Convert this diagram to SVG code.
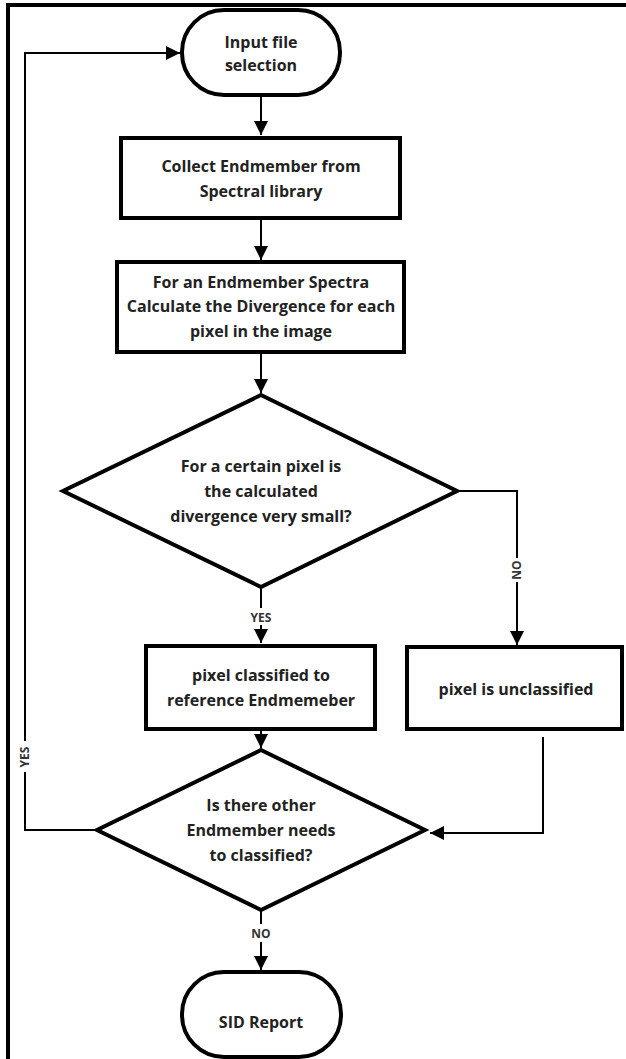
<svg xmlns="http://www.w3.org/2000/svg" width="626" height="1059" viewBox="0 0 626 1059">
<style>
.n{fill:#fff;stroke:#000;stroke-width:4}
.t{font-family:"Open Sans","Liberation Sans",sans-serif;font-weight:bold;font-size:16px;fill:#222;text-anchor:middle}
.l{font-family:"Open Sans","Liberation Sans",sans-serif;font-weight:bold;font-size:12px;fill:#333;text-anchor:middle}
.c{fill:none;stroke:#000;stroke-width:2}
.f{stroke:#000;stroke-width:4}
</style>
<defs>
<marker id="a" viewBox="0 0 10 10" refX="10" refY="5" markerWidth="7" markerHeight="7" orient="auto" markerUnits="strokeWidth">
<path d="M0,0L10,5L0,10z" fill="#000"/>
</marker>
</defs>
<rect width="626" height="1059" fill="#fff"/>
<g id="frame">
<line class="f" x1="6" y1="5" x2="626" y2="5"/>
<line class="f" x1="8" y1="3" x2="8" y2="1059"/>
</g>
<g id="connectors">
<line class="c" x1="261" y1="95" x2="261" y2="135" marker-end="url(#a)"/>
<line class="c" x1="261" y1="218" x2="261" y2="260" marker-end="url(#a)"/>
<line class="c" x1="261" y1="352" x2="261" y2="393" marker-end="url(#a)"/>
<line class="c" x1="261" y1="587" x2="261" y2="608"/>
<line class="c" x1="261" y1="625" x2="261" y2="643" marker-end="url(#a)"/>
<polyline class="c" points="457,491 517,491 517,558"/>
<line class="c" x1="517" y1="582" x2="517" y2="645" marker-end="url(#a)"/>
<polyline class="c" points="543,737 543,833 430,833" marker-end="url(#a)"/>
<line class="c" x1="261" y1="729" x2="261" y2="748" marker-end="url(#a)"/>
<polyline class="c" points="97,830 25,830 25,772"/>
<polyline class="c" points="25,741 25,53 180,53" marker-end="url(#a)"/>
<line class="c" x1="261" y1="910" x2="261" y2="924"/>
<line class="c" x1="261" y1="942" x2="261" y2="970" marker-end="url(#a)"/>
<text class="l" x="261" y="622">YES</text>
<text class="l" x="0" y="0" transform="translate(521,570) rotate(-90)">NO</text>
<text class="l" x="0" y="0" transform="translate(29,757) rotate(-90)">YES</text>
<text class="l" x="261" y="938">NO</text>
</g>
<g id="start">
<rect class="n" x="182" y="10" width="158" height="85" rx="42" ry="42"/>
<text class="t" x="261" y="48">Input file</text>
<text class="t" x="261" y="71">selection</text>
</g>
<g id="collect">
<rect class="n" x="121" y="138" width="279" height="80"/>
<text class="t" x="261" y="172">Collect Endmember from</text>
<text class="t" x="261" y="197">Spectral library</text>
</g>
<g id="calc">
<rect class="n" x="117" y="262" width="287" height="90"/>
<text class="t" x="261" y="288">For an Endmember Spectra</text>
<text class="t" x="261" y="312">Calculate the Divergence for each</text>
<text class="t" x="261" y="337">pixel in the image</text>
</g>
<g id="decision1">
<polygon class="n" points="261,395 457,491 261,587 63,491"/>
<text class="t" x="261" y="472">For a certain pixel is</text>
<text class="t" x="261" y="497">the calculated</text>
<text class="t" x="261" y="522">divergence very small?</text>
</g>
<g id="classified">
<rect class="n" x="146" y="646" width="229" height="83"/>
<text class="t" x="261" y="681">pixel classified to</text>
<text class="t" x="261" y="706">reference Endmemeber</text>
</g>
<g id="unclassified">
<rect class="n" x="407" y="647" width="215" height="82"/>
<text class="t" x="516" y="695">pixel is unclassified</text>
</g>
<g id="decision2">
<polygon class="n" points="261,750 425,830 261,910 97,830"/>
<text class="t" x="261" y="811">Is there other</text>
<text class="t" x="261" y="836">Endmember needs</text>
<text class="t" x="261" y="861">to classified?</text>
</g>
<g id="end">
<rect class="n" x="182" y="972" width="159" height="85" rx="42" ry="42"/>
<text class="t" x="261" y="1028">SID Report</text>
</g>
</svg>
